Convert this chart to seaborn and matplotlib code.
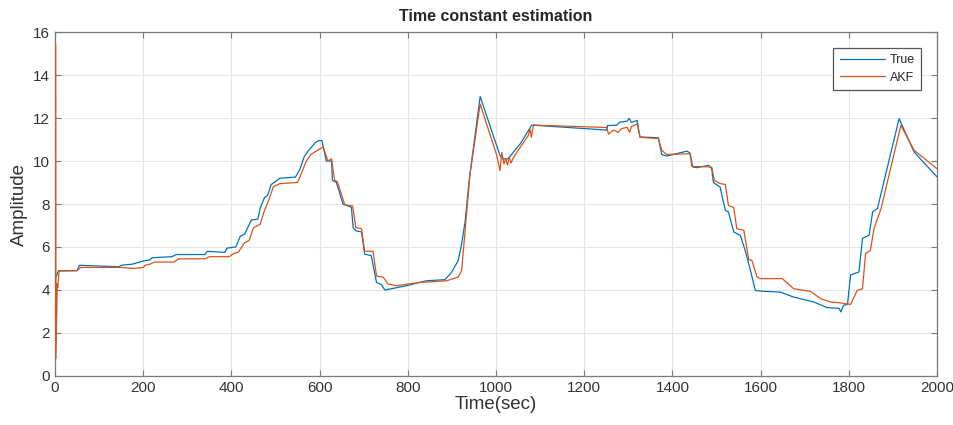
import numpy as np
import pandas as pd
import seaborn as sns
import matplotlib
matplotlib.use("Agg")
import matplotlib.pyplot as plt

# breakpoints (time in sec, amplitude)
true_t = [0, 8, 50, 55, 145, 150, 175, 200, 215, 220, 265, 275, 340, 345, 385,
          390, 410, 420, 430, 445, 460, 465, 475, 482, 490, 510, 545, 555, 565,
          575, 590, 598, 605, 609, 615, 627, 629, 638, 653, 672, 676, 683, 695,
          702, 717, 729, 740, 748, 797, 842, 884, 899, 914, 922, 930, 939, 964,
          1009, 1015, 1027, 1039, 1055, 1081, 1251, 1253, 1274, 1280, 1297, 1302,
          1307, 1320, 1326, 1368, 1376, 1387, 1433, 1440, 1446, 1455, 1482, 1489,
          1493, 1508, 1520, 1527, 1539, 1554, 1565, 1577, 1588, 1600, 1645, 1675,
          1721, 1751, 1778, 1782, 1788, 1797, 1804, 1823, 1831, 1846, 1854, 1865,
          1914, 1948, 2000]
true_y = [4.5, 4.9, 4.9, 5.15, 5.08, 5.15, 5.2, 5.35, 5.4, 5.5, 5.55, 5.65, 5.65,
          5.8, 5.75, 5.95, 6.0, 6.5, 6.6, 7.25, 7.3, 7.8, 8.3, 8.4, 8.9, 9.2,
          9.25, 9.6, 10.2, 10.5, 10.85, 10.95, 10.95, 10.6, 10.0, 10.0, 9.1, 9.0,
          8.0, 7.85, 6.9, 6.75, 6.7, 5.67, 5.6, 4.35, 4.25, 4.0, 4.2, 4.43, 4.48,
          4.82, 5.36, 6.14, 7.2, 9.1, 13.0, 10.25, 10.1, 10.1, 10.4, 10.8, 11.67,
          11.44, 11.65, 11.67, 11.8, 11.85, 11.98, 11.8, 11.88, 11.12, 11.08,
          10.3, 10.23, 10.46, 10.37, 9.72, 9.69, 9.8, 9.64, 9.0, 8.79, 7.7, 7.63,
          6.7, 6.54, 5.84, 4.9, 3.98, 3.95, 3.9, 3.67, 3.44, 3.18, 3.15, 2.98,
          3.29, 3.33, 4.7, 4.84, 6.4, 6.55, 7.63, 7.8, 11.97, 10.42, 9.26]

akf_t = [1.5, 2, 5, 6, 9, 50, 58, 150, 180, 200, 205, 215, 225, 270, 280, 340,
         350, 395, 405, 415, 430, 440, 450, 465, 475, 485, 495, 510, 550, 560,
         570, 580, 595, 608, 619, 627, 634, 640, 657, 675, 682, 695, 702, 721,
         729, 744, 755, 774, 827, 888, 914, 922, 933, 941, 964, 1001, 1009, 1013,
         1018, 1022, 1026, 1030, 1034, 1038, 1047, 1073, 1077, 1080, 1085, 1251,
         1255, 1266, 1277, 1284, 1297, 1303, 1307, 1320, 1327, 1368, 1376, 1387,
         1440, 1444, 1489, 1495, 1508, 1520, 1527, 1539, 1546, 1562, 1573, 1580,
         1592, 1600, 1649, 1675, 1713, 1736, 1759, 1782, 1804, 1819, 1831, 1838,
         1849, 1857, 1873, 1918, 1948, 2000]
akf_y = [15.4, 0.8, 4.3, 4.1, 4.88, 4.9, 5.05, 5.05, 5.0, 5.05, 5.15, 5.2, 5.3,
         5.3, 5.45, 5.45, 5.55, 5.55, 5.7, 5.75, 6.2, 6.3, 6.9, 7.05, 7.7, 8.2,
         8.8, 8.95, 9.0, 9.5, 10.0, 10.3, 10.5, 10.65, 10.0, 10.1, 9.1, 9.05,
         7.97, 7.9, 6.9, 6.85, 5.8, 5.8, 4.65, 4.6, 4.28, 4.2, 4.35, 4.43, 4.6,
         4.9, 7.5, 9.4, 12.65, 10.3, 9.55, 10.4, 9.86, 10.1, 9.8, 10.17, 9.9,
         10.1, 10.4, 11.18, 11.5, 11.1, 11.67, 11.56, 11.25, 11.44, 11.33, 11.5,
         11.57, 11.33, 11.6, 11.72, 11.1, 11.04, 10.5, 10.3, 10.34, 9.75, 9.72,
         9.1, 8.95, 8.91, 7.94, 7.83, 6.85, 6.78, 5.41, 5.38, 4.6, 4.53, 4.53,
         4.06, 3.94, 3.6, 3.44, 3.4, 3.33, 3.98, 4.06, 5.7, 5.84, 6.85, 7.78,
         11.66, 10.5, 9.64]

df = pd.concat([
    pd.DataFrame({"t": true_t, "y": true_y, "series": "True"}),
    pd.DataFrame({"t": akf_t, "y": akf_y, "series": "AKF"}),
], ignore_index=True)

sns.set_style("white")
plt.rcParams["font.family"] = ["Liberation Sans", "DejaVu Sans"]

fig = plt.figure(figsize=(9.54, 4.25), dpi=100)
ax = fig.add_axes([0.0577, 0.1153, 0.9245, 0.8094])

sns.lineplot(data=df, x="t", y="y", hue="series", palette={"True": "#0072BD", "AKF": "#D95319"},
             estimator=None, sort=False, linewidth=0.9, ax=ax, zorder=3)

ax.set_xlim(0, 2000)
ax.set_ylim(0, 16)
ax.set_xticks(np.arange(0, 2001, 200))
ax.set_yticks(np.arange(0, 17, 2))
ax.grid(True, color="#e6e6e6", linewidth=0.8)
ax.set_axisbelow(True)
for s in ax.spines.values():
    s.set_color("#7a7a7a")
    s.set_linewidth(0.9)
ax.tick_params(direction="in", length=4, labelsize=11, colors="#7a7a7a",
               labelcolor="#333333", top=True, right=True, bottom=True, left=True)
ax.set_xlabel("Time(sec)", fontsize=13.5, color="#333333", labelpad=1)
ax.set_ylabel("Amplitude", fontsize=13.5, color="#333333", labelpad=4)
ax.set_title("Time constant estimation", fontsize=11.5, fontweight="bold", pad=8)

leg = ax.legend(loc="upper right", bbox_to_anchor=(921 / 954, 1 - 47.7 / 425),
                bbox_transform=fig.transFigure, borderaxespad=0, fontsize=9,
                frameon=True, fancybox=False, handlelength=3.6, borderpad=0.5,
                labelspacing=0.45, handletextpad=0.4)
leg.get_frame().set_edgecolor("#555555")
leg.get_frame().set_linewidth(0.9)
leg.get_frame().set_alpha(1)

fig.savefig("out.png", dpi=100)
